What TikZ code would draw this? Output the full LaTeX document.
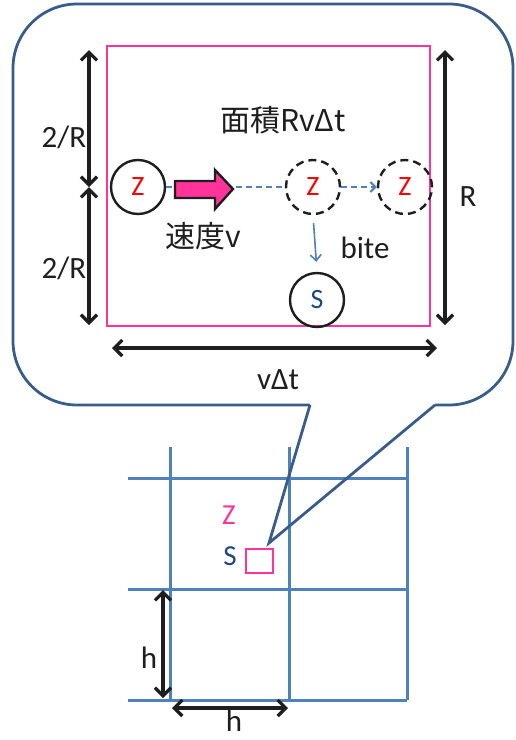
\documentclass[tikz,border=0pt]{standalone}
\usepackage{fontspec}
\setmainfont{Carlito}
\newfontfamily\jp{Noto Sans CJK JP}
\usetikzlibrary{arrows.meta}
\definecolor{pinkc}{RGB}{255,51,153}
\definecolor{gridblue}{RGB}{79,129,189}
\definecolor{callblue}{RGB}{56,93,138}
\definecolor{sblue}{RGB}{31,73,125}
\definecolor{darkc}{RGB}{30,30,30}
\tikzset{
  lbl/.style={font=\fontsize{31}{34}\selectfont, text=darkc, inner sep=0pt},
  zc/.style={circle, draw=darkc, line width=2.4pt, minimum size=54pt, inner sep=0pt, text=red, font=\fontsize{28}{30}\selectfont},
  dimarrow/.style={draw=darkc, line width=3.2pt, {Straight Barb[length=8pt,width=16pt]}-{Straight Barb[length=8pt,width=16pt]}},
  gridline/.style={draw=gridblue, line width=3pt},
  bluedash/.style={draw=gridblue, line width=2pt, dash pattern=on 6pt off 4pt},
}
\begin{document}
\begin{tikzpicture}[x=1pt,y=-1pt]
\useasboundingbox (0,0) rectangle (516,740);
% grid
\foreach \gx/\n in {170/a,289/b,407/c}{
  \coordinate (vt\n) at (\gx,447); \coordinate (vb\n) at (\gx,700);
  \draw[gridline] (vt\n) -- (vb\n);
}
\foreach \gy/\n in {478/a,589/b,700/c}{
  \coordinate (hl\n) at (128,\gy); \coordinate (hr\n) at (407,\gy);
  \draw[gridline] (hl\n) -- (hr\n);
}
% small pink square
\coordinate (sq1) at (246,549); \coordinate (sq2) at (273,573);
\draw[pinkc, line width=2.8pt] (sq1) rectangle (sq2);
\node[font=\fontsize{29}{30}\selectfont, text=pinkc, inner sep=0pt] (gz) at (229,515) {Z};
\node[font=\fontsize{29}{30}\selectfont, text=sblue, inner sep=0pt] (gs) at (230,556) {S};
% h dimensions
\coordinate (hv1) at (163,590); \coordinate (hv2) at (163,698);
\draw[dimarrow] (hv1) -- (hv2);
\node[lbl] (hlab1) at (149,658) {h};
\coordinate (hh1) at (172,708); \coordinate (hh2) at (288,708);
\draw[dimarrow] (hh1) -- (hh2);
\node[lbl] (hlab2) at (234,721) {h};
% callout
\coordinate (c1) at (310,405); \coordinate (c2) at (13,405); \coordinate (c3) at (13,4);
\coordinate (c4) at (513,4); \coordinate (c5) at (513,405); \coordinate (c6) at (435,405);
\coordinate (tip) at (269,543);
\draw[callblue, line width=2.8pt, rounded corners=64pt] (c1) -- (c2) -- (c3) -- (c4) -- (c5) -- (c6);
\draw[callblue, line width=2.8pt, line join=miter] (c1) -- (tip) -- (c6);
% pink rectangle
\coordinate (r1) at (107,46); \coordinate (r2) at (430,326);
\draw[pinkc, line width=2.8pt] (r1) rectangle (r2);
% circles
\node[zc] (z1) at (138,187) {Z};
\node[zc, dash pattern=on 8pt off 5pt] (z2) at (313,187) {Z};
\node[zc, dash pattern=on 8pt off 5pt] (z3) at (405,187) {Z};
\node[zc, text=sblue] (s) at (317,300) {S};
% blue connectors
\draw[bluedash] (z1) -- (z2);
\draw[bluedash, -{Straight Barb[length=5pt,width=10pt]}] (z2) -- (z3);
\draw[draw=gridblue, line width=1.6pt, -{Straight Barb[length=6pt,width=11pt]}, shorten <=8pt, shorten >=10pt] (z2.south) -- (s.north);
% fat arrow
\draw[darkc, line width=2.4pt, fill=pinkc, line join=miter]
  (175,181) -- (215,181) -- (215,170) -- (233,189) -- (215,209) -- (215,198) -- (175,198) -- cycle;
% dimension arrows
\coordinate (la) at (89,50); \coordinate (lm) at (89,187); \coordinate (lb) at (89,325);
\draw[dimarrow] (la) -- (lm);
\draw[dimarrow] (lm) -- (lb);
\coordinate (ra) at (445,50); \coordinate (rb) at (445,325);
\draw[dimarrow] (ra) -- (rb);
\coordinate (ba) at (112,348); \coordinate (bb) at (437,348);
\draw[dimarrow] (ba) -- (bb);
% labels
\node[lbl] (l2r1) at (64,137) {2/R};
\node[lbl] (l2r2) at (64,268) {2/R};
\node[lbl] (lR) at (468,197) {R};
\node[lbl] (lvdt) at (278,380) {vΔt};
\node[lbl, font=\jp\fontsize{30}{34}\selectfont] (larea) at (283,120) {面積RvΔt};
\node[lbl, font=\jp\fontsize{30}{34}\selectfont] (lspeed) at (203,236) {速度v};
\node[lbl] (lbite) at (365,248) {bite};
\end{tikzpicture}
\end{document}
